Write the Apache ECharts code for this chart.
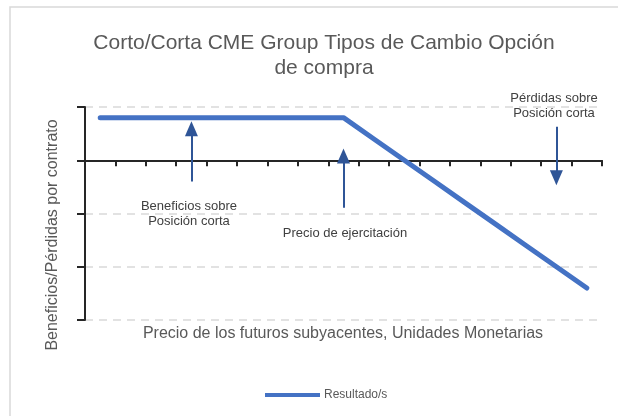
<!DOCTYPE html>
<html>
<head>
<meta charset="utf-8">
<script src="https://cdn.jsdelivr.net/npm/echarts@6/dist/echarts.min.js"></script>
<style>
  html, body { margin: 0; padding: 0; background: #fff; }
  #chart { width: 618px; height: 416px; }
</style>
</head>
<body>
<div id="chart"></div>
<script>
// precio del futuro subyacente (sin etiquetas visibles)
const categories = ['P1', 'P2', 'P3', 'P4', 'P5', 'P6', 'P7', 'P8', 'P9',
  'P10', 'P11', 'P12', 'P13', 'P14', 'P15', 'P16', 'P17'];
// resultado de la posición corta en call
const resultado = [0.8, 0.8, 0.8, 0.8, 0.8, 0.8, 0.8, 0.8, 0.8,
  0.4, 0, -0.4, -0.8, -1.2, -1.6, -2.0, -2.4];
// flechas de anotación: [categoría, desde, hasta]
const arrows = [
  [3, -0.4, 0.59],
  [8, -0.89, 0.08],
  [15, 0.63, -0.33]
];

const font = 'Liberation Sans, Arial, sans-serif';
const chart = echarts.init(document.getElementById('chart'), null, { renderer: 'canvas' });

chart.setOption({
  animation: false,
  backgroundColor: '#fff',
  title: {
    text: 'Corto/Corta CME Group Tipos de Cambio Opción\nde compra',
    left: 319,
    top: 26,
    textAlign: 'center',
    textStyle: { fontFamily: font, fontSize: 21, fontWeight: 'normal', color: '#595959', lineHeight: 25 }
  },
  legend: {
    left: 260,
    top: 384,
    icon: 'rect',
    itemWidth: 55,
    itemHeight: 4,
    itemGap: 4,
    textStyle: { fontFamily: font, fontSize: 12, color: '#595959', padding: [0, 0, 0, -1] },
    data: ['Resultado/s']
  },
  grid: { left: 85, right: 16, top: 107, bottom: 96 },
  xAxis: {
    type: 'category',
    data: categories,
    boundaryGap: true,
    axisLine: { onZero: true, lineStyle: { color: '#262626', width: 2 } },
    axisTick: { show: true, interval: 0, length: 6, lineStyle: { color: '#262626', width: 2 } },
    axisLabel: { show: false },
    splitLine: { show: false }
  },
  yAxis: {
    type: 'value',
    min: -3,
    max: 1,
    interval: 1,
    axisLine: { show: true, lineStyle: { color: '#262626', width: 2 } },
    axisTick: { show: true, length: 8, lineStyle: { color: '#262626', width: 2 } },
    axisLabel: { show: false },
    splitLine: { show: true, lineStyle: { color: '#D9D9D9', width: 1.5, type: [8, 6] } }
  },
  series: [{
    name: 'Resultado/s',
    type: 'line',
    data: resultado,
    symbol: 'none',
    itemStyle: { color: '#4472C4' },
    lineStyle: { color: '#4472C4', width: 5, cap: 'round', join: 'round' },
    markLine: {
      silent: true,
      symbol: ['none', 'triangle'],
      symbolSize: [13, 15],
      label: { show: false },
      lineStyle: { color: '#2F5597', width: 2, type: 'solid' },
      itemStyle: { color: '#2F5597' },
      data: arrows.map(a => [{ coord: [a[0], a[1]] }, { coord: [a[0], a[2]] }])
    }
  }],
  graphic: [
    {
      type: 'rect', silent: true, z: -1,
      shape: { x: 10, y: 7, width: 640, height: 440 },
      style: { fill: 'none', stroke: '#D9D9D9', lineWidth: 1.5 }
    },
    {
      type: 'text', x: 189, y: 213.5,
      style: { text: 'Beneficios sobre\nPosición corta', align: 'center', verticalAlign: 'middle',
        font: '13px ' + font, fill: '#404040', lineHeight: 15 }
    },
    {
      type: 'text', x: 345, y: 233,
      style: { text: 'Precio de ejercitación', align: 'center', verticalAlign: 'middle',
        font: '13px ' + font, fill: '#404040' }
    },
    {
      type: 'text', x: 554, y: 106,
      style: { text: 'Pérdidas sobre\nPosición corta', align: 'center', verticalAlign: 'middle',
        font: '13px ' + font, fill: '#404040', lineHeight: 15 }
    },
    {
      type: 'text', x: 343, y: 334,
      style: { text: 'Precio de los futuros subyacentes, Unidades Monetarias', align: 'center',
        verticalAlign: 'middle', font: '16px ' + font, fill: '#595959' }
    },
    {
      type: 'text', x: 53, y: 235, rotation: Math.PI / 2,
      style: { text: 'Beneficios/Pérdidas por contrato', align: 'center',
        verticalAlign: 'middle', font: '16px ' + font, fill: '#595959' }
    }
  ]
});
</script>
</body>
</html>
